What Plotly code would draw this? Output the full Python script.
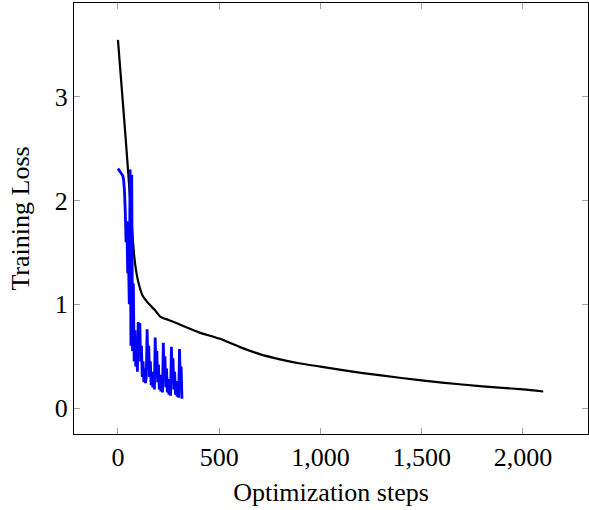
import plotly.graph_objects as go

black_steps = [0, 20, 40, 60, 70, 80, 90, 100, 120, 150, 180, 210, 250, 300, 400, 500,
               600, 700, 800, 900, 1000, 1200, 1400, 1600, 1800, 2000, 2100]
black_loss = [3.55, 3.05, 2.55, 2.02, 1.72, 1.47, 1.32, 1.22, 1.09, 1.01, 0.95, 0.88, 0.85,
              0.81, 0.73, 0.67, 0.59, 0.52, 0.47, 0.43, 0.40, 0.34, 0.29, 0.245, 0.21, 0.18, 0.16]

blue_steps = list(range(0, 320, 4))
blue_loss = [2.31, 2.30, 2.29, 2.28, 2.27, 2.26, 2.24, 2.20, 2.10, 1.90,
             1.60, 1.80, 1.30, 1.45, 1.00, 2.30, 0.60, 2.25, 0.55, 1.20,
             0.45, 0.75, 0.40, 0.65, 0.35, 0.83, 0.50, 0.82, 0.45, 0.60,
             0.30, 0.45, 0.25, 0.38, 0.24, 0.30, 0.76, 0.40, 0.60, 0.30,
             0.45, 0.22, 0.35, 0.20, 0.30, 0.18, 0.68, 0.35, 0.55, 0.25,
             0.42, 0.18, 0.32, 0.16, 0.26, 0.15, 0.63, 0.30, 0.50, 0.20,
             0.38, 0.15, 0.28, 0.13, 0.24, 0.12, 0.59, 0.28, 0.48, 0.18,
             0.35, 0.13, 0.26, 0.11, 0.22, 0.10, 0.57, 0.25, 0.40, 0.09]

x_ticks = [0, 500, 1000, 1500, 2000]
x_ticklabels = ["0", "500", "1,000", "1,500", "2,000"]
y_ticks = [0, 1, 2, 3]

FONT = "Liberation Serif"

fig = go.Figure()
fig.add_trace(go.Scatter(x=black_steps, y=black_loss, mode="lines",
                         line=dict(color="black", width=2.2, shape="spline", smoothing=0.6),
                         showlegend=False))
fig.add_trace(go.Scatter(x=blue_steps, y=blue_loss, mode="lines",
                         line=dict(color="blue", width=2.8),
                         showlegend=False))

axis_common = dict(showgrid=False, zeroline=False, showline=True, linecolor="black",
                   linewidth=1, mirror="allticks", ticks="inside", ticklen=6,
                   tickcolor="#a0a0a0", tickwidth=1,
                   tickfont=dict(family=FONT, size=26, color="black"))

fig.update_layout(
    width=589, height=510,
    margin=dict(l=74, r=1, t=3, b=76),
    plot_bgcolor="white", paper_bgcolor="white",
    xaxis=dict(range=[-217, 2321], tickvals=x_ticks, ticktext=x_ticklabels,
               title=dict(text="Optimization steps", font=dict(family=FONT, size=26, color="black"),
                          standoff=11),
               **axis_common),
    yaxis=dict(range=[-0.25, 3.905], tickvals=y_ticks,
               title=dict(text="Training Loss", font=dict(family=FONT, size=26, color="black"),
                          standoff=17),
               **axis_common),
)

fig.write_html("out.html", config={"displayModeBar": False},
               post_script="document.body.style.margin='0px';")
